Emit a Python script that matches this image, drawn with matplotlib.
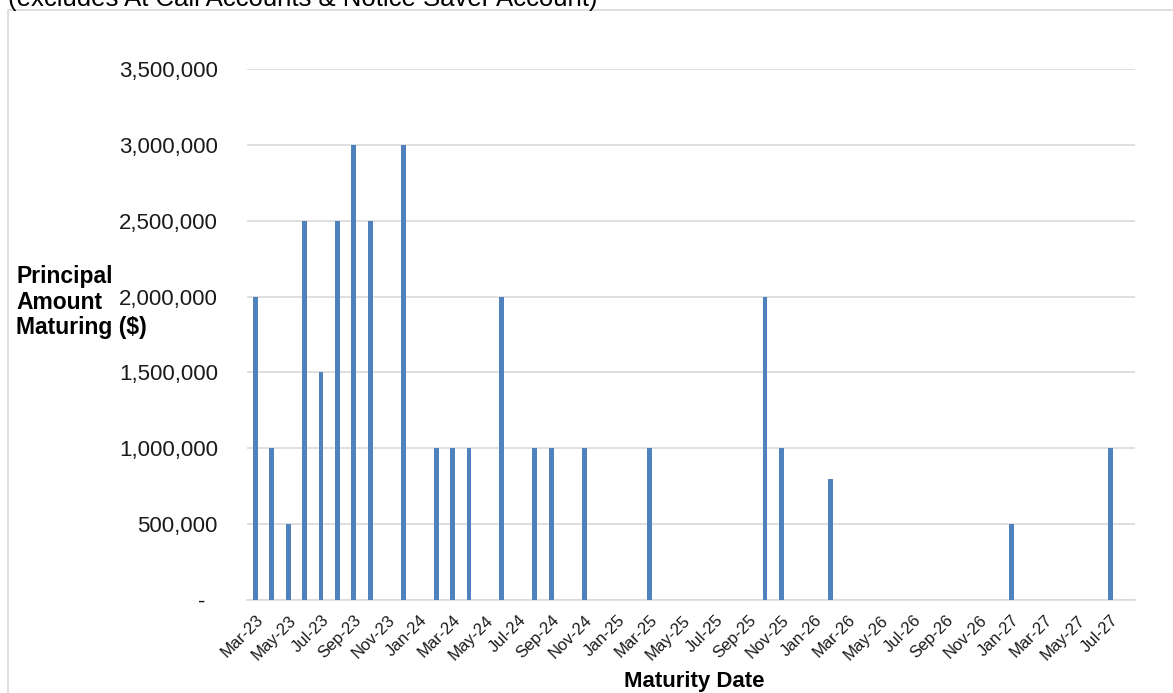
import numpy as np
import pandas as pd
import matplotlib
matplotlib.use("Agg")
from matplotlib import pyplot as plt
from matplotlib.patches import Rectangle
from matplotlib.ticker import FuncFormatter

plt.rcParams['font.family'] = ['Liberation Sans', 'DejaVu Sans']

# maturity months that have an amount, and the amount maturing ($)
maturity_months = ['Mar-23', 'Apr-23', 'May-23', 'Jun-23', 'Jul-23', 'Aug-23', 'Sep-23', 'Oct-23',
                   'Dec-23', 'Feb-24', 'Mar-24', 'Apr-24', 'Jun-24', 'Aug-24', 'Sep-24', 'Nov-24',
                   'Mar-25', 'Oct-25', 'Nov-25', 'Feb-26', 'Jan-27', 'Jul-27']
amounts = [2000000, 1000000, 500000, 2500000, 1500000, 2500000, 3000000, 2500000,
           3000000, 1000000, 1000000, 1000000, 2000000, 1000000, 1000000, 1000000,
           1000000, 2000000, 1000000, 800000, 500000, 1000000]

# monthly category axis (last month has no label)
axis_start = '2023-03'
axis_end = '2027-08'
all_months = [p.strftime('%b-%y') for p in pd.period_range(axis_start, axis_end, freq='M')]

title_text = "(excludes At Call Accounts & Notice Saver Account)"
y_label = "Principal\nAmount\nMaturing ($)"
x_label = "Maturity Date"

W, H = 1173, 693
fig = plt.figure(figsize=(W / 100, H / 100), dpi=100)
ax = fig.add_axes([247 / W, 1 - 600 / H, (1135 - 247) / W, (600 - 69) / H])

pos = [all_months.index(m) for m in maturity_months]
ax.bar(pos, amounts, width=0.3, color='#4f81bd', zorder=3)

ax.set_xlim(-0.5, len(all_months) - 0.5)
ax.set_ylim(0, 3500000)
ax.set_yticks(np.arange(0, 3500001, 500000))
ax.yaxis.set_major_formatter(FuncFormatter(lambda v, p: '-  ' if v == 0 else f'{v:,.0f}'))
ax.tick_params(axis='y', length=0, labelsize=16, pad=21, labelcolor='#1a1a1a')
ax.grid(axis='y', color='#d9d9d9', linewidth=1.2, zorder=0)

ticks = list(range(0, len(all_months) - 1, 2))
ax.set_xticks(ticks)
ax.set_xticklabels([all_months[i] for i in ticks], rotation=45, ha='right',
                   rotation_mode='anchor', fontsize=12, color='#1a1a1a')
ax.tick_params(axis='x', length=0, pad=9)

for s in ['top', 'right', 'left']:
    ax.spines[s].set_visible(False)
ax.spines['bottom'].set_color('#d9d9d9')
ax.spines['bottom'].set_linewidth(1.2)

fig.text(16 / W, 1 - 302 / H, y_label, fontsize=16.5, fontweight='bold',
         ha='left', va='center', linespacing=1.15)
fig.text(694 / W, 1 - 681 / H, x_label, fontsize=16, fontweight='bold',
         ha='center', va='center')
fig.text(8 / W, 1 - 6 / H, title_text, fontsize=18.5, ha='left', va='baseline')

fig.patches.append(Rectangle((8 / W, -0.1), 1.1, 1 - 10 / H + 0.1, transform=fig.transFigure,
                             fill=False, edgecolor='#d9d9d9', linewidth=1.2))

fig.savefig('out.png', dpi=100)
